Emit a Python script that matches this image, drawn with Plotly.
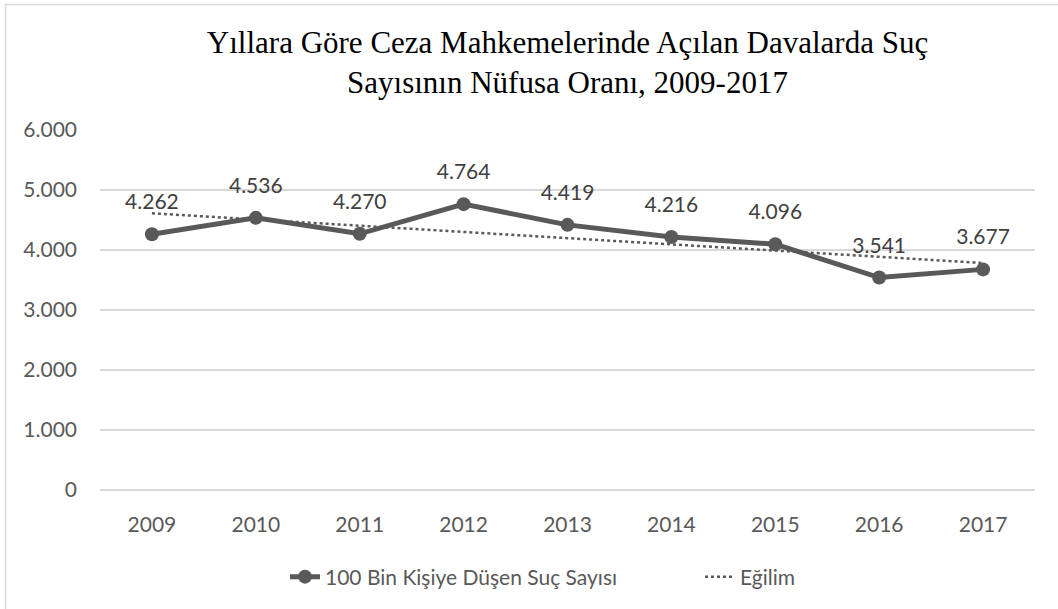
import plotly.graph_objects as go

years = ["2009", "2010", "2011", "2012", "2013", "2014", "2015", "2016", "2017"]
crime_rate = [4262, 4536, 4270, 4764, 4419, 4216, 4096, 3541, 3677]
trend_years = ["2009", "2017"]
trend_values = [4612, 3783]

title_text = "Yıllara Göre Ceza Mahkemelerinde Açılan Davalarda Suç<br>Sayısının Nüfusa Oranı, 2009-2017"
series_name = "100 Bin Kişiye Düşen Suç Sayısı"
trend_name = "Eğilim"

gray = "#595959"
label_gray = "#404040"
font_fam = "Lato, 'Open Sans', sans-serif"

fig = go.Figure()
fig.add_trace(go.Scatter(
    x=years, y=crime_rate, name=series_name,
    mode="lines+markers",
    line=dict(color=gray, width=5),
    marker=dict(color=gray, size=14),
    legend="legend",
))
fig.add_trace(go.Scatter(
    x=trend_years, y=trend_values, name=trend_name,
    mode="lines",
    line=dict(color=gray, width=2.5, dash="dot"),
    legend="legend2",
))
# data labels (transparent marker used only to push the text above the point)
fig.add_trace(go.Scatter(
    x=years, y=crime_rate, mode="markers+text", showlegend=False, hoverinfo="skip",
    marker=dict(size=30, color="rgba(0,0,0,0)"),
    texttemplate="%{y:,d}", textposition="top center",
    textfont=dict(size=21, color=label_gray, family=font_fam),
    cliponaxis=False,
))

legend_y = (490 - 577) / 360
fig.update_layout(
    width=1058, height=609,
    margin=dict(l=100, r=23, t=130, b=119),
    paper_bgcolor="white", plot_bgcolor="white",
    separators=",.",
    title=dict(text=title_text, x=0.5, xanchor="center", xref="paper",
               y=1 - 53 / 609, yanchor="middle",
               font=dict(family="Liberation Serif, 'Times New Roman', serif", size=31, color="black")),
    font=dict(family=font_fam, size=21, color=gray),
    xaxis=dict(type="category", range=[-0.5, 8.5], showgrid=False, showline=False,
               ticks="", tickfont=dict(size=21, color=gray), ticklabelstandoff=20),
    yaxis=dict(range=[0, 6000], dtick=1000, tickformat=",d", showgrid=True,
               gridcolor="#d9d9d9", gridwidth=1.5, zeroline=True, zerolinecolor="#d9d9d9",
               zerolinewidth=1.5, ticks="", tickfont=dict(size=21, color=gray),
               ticklabelstandoff=22),
    legend=dict(orientation="h", x=(285 - 100) / 935, xanchor="left",
                y=legend_y, yanchor="middle", font=dict(size=21, color=gray)),
    legend2=dict(orientation="h", x=(700 - 100) / 935, xanchor="left",
                 y=legend_y, yanchor="middle", font=dict(size=21, color=gray)),
    showlegend=True,
    hovermode=False,
)

fig.add_shape(type="rect", xref="paper", yref="paper",
              x0=(5.5 - 100) / 935, x1=1.1, y0=-0.5, y1=(490 - 4.5) / 360,
              line=dict(color="#d9d9d9", width=1.5), fillcolor="rgba(0,0,0,0)", layer="below")

fig.write_html("out.html", config={"displayModeBar": False},
               post_script="document.body.style.margin='0';")
